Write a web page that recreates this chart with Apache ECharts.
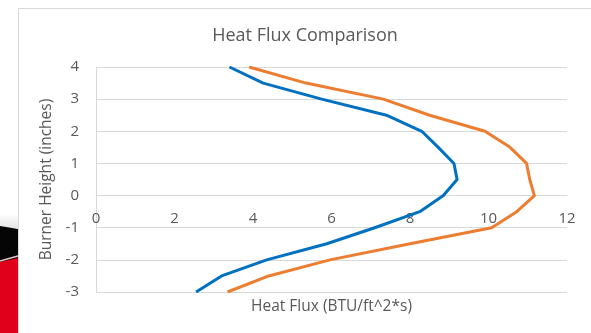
<!DOCTYPE html>
<html>
<head>
<meta charset="utf-8">
<script src="https://cdn.jsdelivr.net/npm/echarts@6/dist/echarts.min.js"></script>
<style>
  html, body { margin: 0; padding: 0; background: #ffffff; }
  #chart { width: 591px; height: 333px; }
</style>
</head>
<body>
<div id="chart"></div>
<script>
// Burner heights (inches) at which heat flux was measured
const heights = [4, 3.5, 3, 2.5, 2, 1.5, 1, 0.5, 0, -0.5, -1, -1.5, -2, -2.5, -3];
// Heat flux (BTU/ft^2*s) for the two runs
const fluxA = [3.4, 4.26, 5.75, 7.4, 8.3, 8.72, 9.12, 9.2, 8.85, 8.25, 7.1, 5.88, 4.35, 3.2, 2.55];
const fluxB = [3.9, 5.35, 7.32, 8.5, 9.91, 10.55, 10.97, 11.05, 11.17, 10.72, 10.08, 8.0, 5.96, 4.4, 3.35];
const xTicks = [0, 2, 4, 6, 8, 10, 12];
const yTicks = [-3, -2, -1, 0, 1, 2, 3, 4];

const FONT = '"Open Sans", sans-serif';
const TEXT = '#595959';
const GRID = '#d9d9d9';

const pairs = (xs) => xs.map((x, i) => [x, heights[i]]);

// plot box
const G = { left: 96, right: 24, top: 67, bottom: 41 };
const yMin = -3, yMax = 4;
// distance from the bottom edge up to the y = 0 line, so the horizontal axis crosses there
const plotH = 333 - G.top - G.bottom;
const zeroLift = plotH * (0 - yMin) / (yMax - yMin);

const chart = echarts.init(document.getElementById('chart'), null, { renderer: 'canvas' });
chart.setOption({
  animation: false,
  backgroundColor: '#ffffff',
  graphic: [
    // photo strip peeking out on the left
    { type: 'rect', z: 0, shape: { x: 0, y: 214, width: 18, height: 14 },
      style: { fill: { type: 'linear', x: 0, y: 0, x2: 0, y2: 1,
        colorStops: [{ offset: 0, color: '#ffffff' }, { offset: 1, color: '#e4e4e4' }] } } },
    { type: 'polygon', z: 0, shape: { points: [[0, 226], [18, 229], [18, 333], [0, 333]] },
      style: { fill: '#050505' } },
    { type: 'polygon', z: 1, shape: { points: [[0, 262], [18, 258], [18, 333], [0, 333]] },
      style: { fill: '#e0001b' } },
    { type: 'polyline', z: 2, shape: { points: [[0, 261], [9, 258.5], [18, 256]] },
      style: { stroke: 'rgba(255,215,225,0.9)', lineWidth: 1.5 } },
    // chart area frame
    { type: 'rect', z: 3, shape: { x: 18.5, y: 8.5, width: 600, height: 400 },
      style: { fill: 'none', stroke: GRID, lineWidth: 1 } },
    // horizontal axis title, kept below the plot while the axis line sits at zero
    { type: 'text', z: 3, x: 331.5, y: 307,
      style: { text: 'Heat Flux (BTU/ft^2*s)', fill: TEXT, font: '15.5px "Open Sans", sans-serif',
               align: 'center', verticalAlign: 'middle' } }
  ],
  title: {
    text: 'Heat Flux Comparison',
    left: 300, top: 22, textAlign: 'center',
    textStyle: { fontFamily: FONT, fontSize: 18, fontWeight: 'normal', color: TEXT }
  },
  grid: Object.assign({ containLabel: false, outerBoundsMode: 'none' }, G),
  xAxis: {
    type: 'value', min: 0, max: 12, interval: 2, position: 'bottom', offset: -zeroLift,
    axisLine: { show: true, onZero: false, lineStyle: { color: GRID, width: 1 } },
    axisTick: { show: false },
    splitLine: { show: false },
    axisLabel: { margin: 16, color: TEXT, fontFamily: FONT, fontSize: 15, customValues: xTicks }
  },
  yAxis: {
    type: 'value', position: 'left', min: yMin, max: yMax, interval: 1,
    axisLine: { show: true, onZero: false, lineStyle: { color: GRID, width: 1 } },
    axisTick: { show: false },
    splitLine: { show: true, lineStyle: { color: GRID, width: 1 } },
    axisLabel: { margin: 17, color: TEXT, fontFamily: FONT, fontSize: 15, customValues: yTicks },
    name: 'Burner Height (inches)', nameLocation: 'middle', nameGap: 40, nameRotate: 90,
    nameTextStyle: { color: TEXT, fontFamily: FONT, fontSize: 15.5 }
  },
  series: [
    {
      name: 'Run 1', type: 'line', data: pairs(fluxA),
      showSymbol: false, symbol: 'none',
      lineStyle: { color: '#0070c0', width: 3, join: 'round' }, z: 5
    },
    {
      name: 'Run 2', type: 'line', data: pairs(fluxB),
      showSymbol: false, symbol: 'none',
      lineStyle: { color: '#ed7d31', width: 3, join: 'round' }, z: 4
    }
  ]
});
</script>
</body>
</html>
